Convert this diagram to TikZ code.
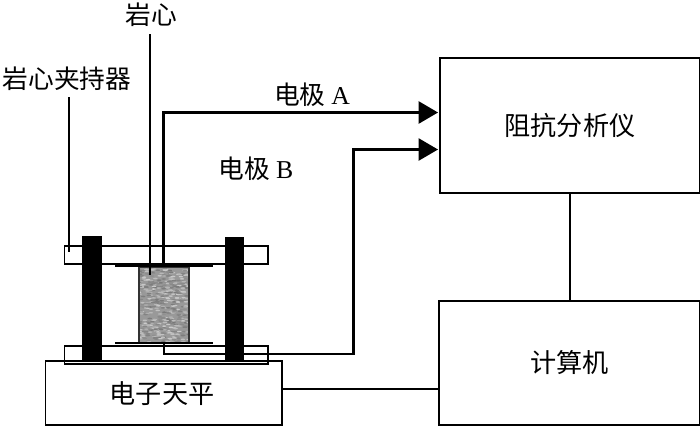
\documentclass[tikz,border=0pt]{standalone}
\usepackage{fontspec}
\setmainfont{Liberation Serif}
\newfontfamily\cjk{Noto Sans CJK SC}
\usetikzlibrary{arrows.meta,calc}
\definecolor{rockbase}{gray}{0.60}
\tikzset{
  x=0.75pt,y=-0.75pt,
  sized/.style 2 args={minimum width=#1*0.75pt,minimum height=#2*0.75pt},
  label text/.style={inner sep=0pt,font=\fontsize{19.3}{22}\selectfont\cjk},
  boxnode/.style={draw=black,line width=1.45pt,fill=white,inner sep=0pt,anchor=north west,font=\fontsize{19.6}{22}\selectfont\cjk},
  platenode/.style={draw=black,line width=1.45pt,inner sep=0pt,anchor=north west},
  postnode/.style={fill=black,inner sep=0pt,anchor=north west},
  wire/.style={draw=black,line width=1.7pt},
  arrowwire/.style={wire,-{Triangle[length=14.5pt,width=16.5pt]}},
}
\begin{document}
\begin{tikzpicture}
\useasboundingbox (0,0) rectangle (700,426);
% balance and clamp plates
\node[boxnode,sized={236.5}{64}] (balance) at (44.5,360) {};
\node[label text,font=\fontsize{19.6}{22}\selectfont\cjk] (lbalance) at (162,394) {电子天平};
\node[platenode,sized={203.5}{18}] (topplate) at (63.5,245) {};
\node[platenode,sized={203.5}{18}] (botplate) at (63.5,345) {};
\node[postnode,sized={19.5}{125}] (postL) at (82,236) {};
\node[postnode,sized={19.5}{125}] (postR) at (224.5,237) {};
% rock core
\node[fill=rockbase,inner sep=0pt,anchor=north west,sized={49.5}{76}] (rock) at (139,267) {};
\begin{scope}
\clip (139.5,267.5) rectangle (188,343);
\pgfmathsetseed{17}
\foreach \i in {1,...,520}{
  \pgfmathsetmacro{\px}{139+50*rnd}
  \pgfmathsetmacro{\py}{267+76*rnd}
  \pgfmathsetmacro{\gv}{rnd>0.55 ? 0.68+0.12*rnd : 0.47+0.10*rnd}
  \definecolor{speck}{gray}{\gv}
  \fill[speck] (\px,\py) ellipse [x radius=1.7pt,y radius=0.6pt];
}
\end{scope}
\draw[draw=black!80,line width=1pt] (rock.north west) rectangle (rock.south east);
% electrode plates
\coordinate (etl) at (115,266); \coordinate (etr) at (213,266);
\coordinate (ebl) at (115,343); \coordinate (ebr) at (213,343);
\draw[line width=1.2pt] (etl) -- (etr);
\draw[line width=2pt] (ebl) -- (ebr);
% instruments
\node[boxnode,sized={260}{135}] (analyzer) at (439,57) {阻抗分析仪};
\node[boxnode,sized={261}{124}] (computer) at (438,300) {计算机};
% labels
\node[label text] (lrock) at (151,15) {岩心};
\node[label text] (lclamp) at (67,79) {岩心夹持器};
\node[label text] (lA) at (312,95) {电极 {\normalfont A}};
\node[label text] (lB) at (256,169) {电极 {\normalfont B}};
% leaders
\coordinate (rockTop) at (150,34); \coordinate (rockEnd) at (150,275);
\coordinate (clampTop) at (69,97); \coordinate (clampEnd) at (69,252);
\draw[wire,line width=1.5pt] (rockTop) -- (rockEnd);
\draw[wire,line width=1.5pt] (clampTop) -- (clampEnd);
% electrode wires
\coordinate (aStart) at (163.5,266); \coordinate (aEnd) at (438,112.5);
\coordinate (bStart) at (164,344); \coordinate (bEnd) at (438,149.5);
\draw[arrowwire,line width=1.9pt] (aStart) -- (aStart |- aEnd) -- (aEnd);
\draw[arrowwire] (bStart) -- (164,354) -- (353.5,354) -- (353.5,149.5) -- (bEnd);
% connections between instruments
\draw[wire,line width=1.45pt] (analyzer.south) -- (analyzer.south |- computer.north);
\coordinate (bal) at (balance.east |- 0,389); \coordinate (comp) at (computer.west |- 0,389);
\draw[wire,line width=1.45pt] (bal) -- (comp);
\end{tikzpicture}
\end{document}
